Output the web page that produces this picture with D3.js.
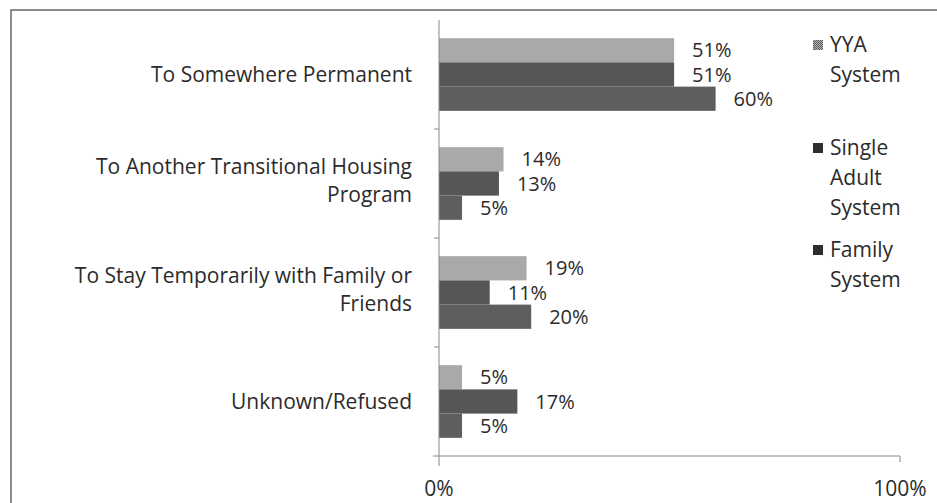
<!DOCTYPE html>
<html>
<head>
  <meta charset="utf-8">
  <title>Exits by destination</title>
  <script src="https://cdn.jsdelivr.net/npm/d3@7"></script>
  <style>
    body { margin: 0; background: #fff; overflow: hidden; }
    svg { display: block; }
    text { font-family: "Open Sans", sans-serif; fill: #2b2b2b; }
  </style>
</head>
<body>
<svg width="937" height="503"></svg>
<script>

var categories = ["To Somewhere Permanent", "To Another Transitional Housing Program",
                  "To Stay Temporarily with Family or Friends", "Unknown/Refused"];
var categoryLines = [["To Somewhere Permanent"],
                     ["To Another Transitional Housing", "Program"],
                     ["To Stay Temporarily with Family or", "Friends"],
                     ["Unknown/Refused"]];
var seriesNames = ["YYA System", "Single Adult System", "Family System"];
var legendLines = [["YYA", "System"], ["Single", "Adult", "System"], ["Family", "System"]];
var yya = [51, 14, 19, 5];
var singleAdult = [51, 13, 11, 17];
var family = [60, 5, 20, 5];
var tickLabels = ["0%", "100%"];

var colors = ["#a9a9a9", "#565656", "#5e5e5e"];
var series = [yya, singleAdult, family];
var fs = 21;

var svg = d3.select("svg");

// outer frame
svg.append("rect")
    .attr("x", 11).attr("y", 10).attr("width", 960).attr("height", 520)
    .attr("fill", "none").attr("stroke", "#666").attr("stroke-width", 1.5);

var x = d3.scaleLinear().domain([0, 100]).range([439, 900]);
var y = d3.scaleBand().domain(categories).range([20, 456]);
var ySub = d3.scaleBand().domain(d3.range(3)).range([0, y.bandwidth()]).paddingOuter(0.75);

var data = [];
categories.forEach(function(c, i) {
  series.forEach(function(s, j) {
    data.push({cat: c, idx: j, value: s[i]});
  });
});

svg.selectAll(".bar")
  .data(data)
  .enter().append("rect")
    .attr("class", "bar")
    .attr("x", x(0))
    .attr("y", function(d) { return y(d.cat) + ySub(d.idx); })
    .attr("width", function(d) { return x(d.value) - x(0); })
    .attr("height", ySub.bandwidth())
    .attr("fill", function(d) { return colors[d.idx]; });

svg.selectAll(".val")
  .data(data)
  .enter().append("text")
    .attr("class", "val")
    .attr("x", function(d) { return x(d.value) + 18; })
    .attr("y", function(d) { return y(d.cat) + ySub(d.idx) + ySub.bandwidth() / 2; })
    .attr("dy", "0.35em")
    .attr("font-size", 20)
    .text(function(d) { return d.value + "%"; });

// axes
var axisColor = "#888";
svg.append("line")
    .attr("x1", x(0)).attr("x2", x(0)).attr("y1", 20).attr("y2", 466)
    .attr("stroke", axisColor);
svg.append("line")
    .attr("x1", x(0) - 6).attr("x2", x(100)).attr("y1", 456).attr("y2", 456)
    .attr("stroke", axisColor);
svg.append("line")
    .attr("x1", x(100)).attr("x2", x(100)).attr("y1", 456).attr("y2", 462)
    .attr("stroke", axisColor);

svg.selectAll(".ytick")
  .data(categories.slice(1))
  .enter().append("line")
    .attr("x1", x(0) - 5).attr("x2", x(0))
    .attr("y1", function(d) { return y(d); })
    .attr("y2", function(d) { return y(d); })
    .attr("stroke", axisColor);

svg.selectAll(".xlab")
  .data([0, 100])
  .enter().append("text")
    .attr("x", function(d) { return x(d); })
    .attr("y", 489)
    .attr("dy", "0.35em")
    .attr("text-anchor", "middle")
    .attr("font-size", fs)
    .text(function(d, i) { return tickLabels[i]; });

// category labels
var catG = svg.selectAll(".cat")
  .data(categories)
  .enter().append("text")
    .attr("class", "cat")
    .attr("text-anchor", "end")
    .attr("font-size", fs);

catG.each(function(c, i) {
  var lines = categoryLines[i];
  var lh = 28;
  var cy = y(c) + y.bandwidth() / 2 - (lines.length - 1) * (lh / 2 + 3);
  d3.select(this).selectAll("tspan")
    .data(lines)
    .enter().append("tspan")
      .attr("x", 412)
      .attr("y", function(d, k) { return cy + k * lh; })
      .attr("dy", "0.35em")
      .text(function(d) { return d; });
});

// legend
var defs = svg.append("defs");
var pat = defs.append("pattern")
    .attr("id", "chk").attr("width", 2).attr("height", 2)
    .attr("patternUnits", "userSpaceOnUse");
pat.append("rect").attr("width", 2).attr("height", 2).attr("fill", "#bbb");
pat.append("rect").attr("width", 1).attr("height", 1).attr("fill", "#555");
pat.append("rect").attr("x", 1).attr("y", 1).attr("width", 1).attr("height", 1).attr("fill", "#555");

var legendTop = [45, 148, 250];
var legendFill = ["url(#chk)", "#2e2e2e", "#2e2e2e"];
var lg = svg.selectAll(".leg")
  .data(seriesNames)
  .enter().append("g")
    .attr("class", "leg");

lg.append("rect")
    .attr("x", 813)
    .attr("y", function(d, i) { return legendTop[i] - 5; })
    .attr("width", 10).attr("height", 10)
    .attr("fill", function(d, i) { return legendFill[i]; });

lg.append("text")
    .attr("font-size", fs)
    .each(function(d, i) {
      d3.select(this).selectAll("tspan")
        .data(legendLines[i])
        .enter().append("tspan")
          .attr("x", 830)
          .attr("y", function(t, k) { return legendTop[i] + k * 30; })
          .attr("dy", "0.35em")
          .text(function(t) { return t; });
    });

</script>
</body>
</html>
